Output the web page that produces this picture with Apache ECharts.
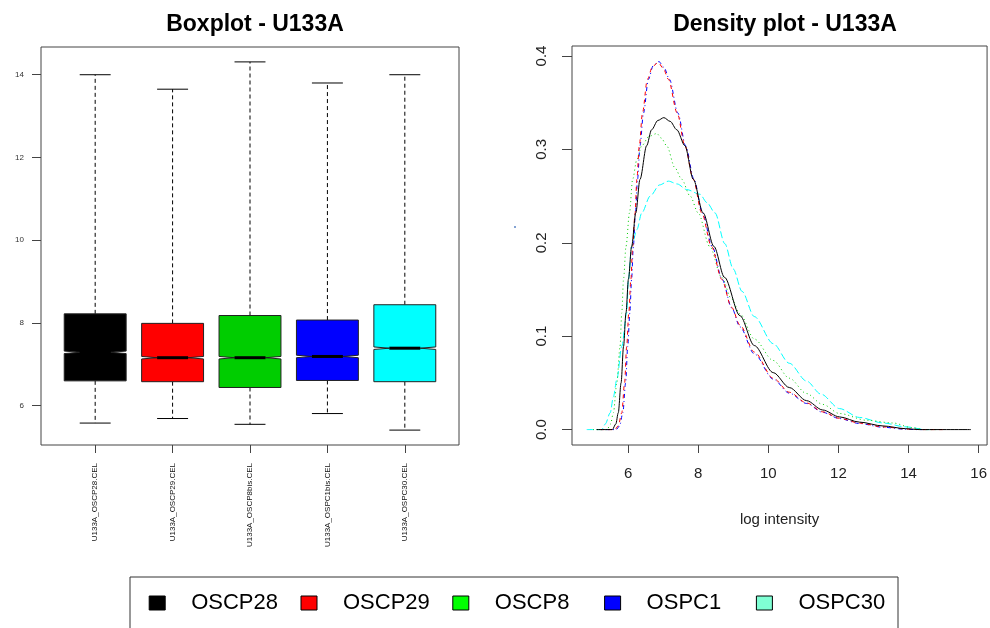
<!DOCTYPE html>
<html>
<head>
<meta charset="utf-8">
<title>U133A quality plots</title>
<script src="https://cdn.jsdelivr.net/npm/echarts@6/dist/echarts.min.js"></script>
<style>
  html, body { margin: 0; padding: 0; background: #fff; }
  #chart { width: 990px; height: 628px; }
</style>
</head>
<body>
<div id="chart"></div>
<script>
// ---- sample names ----
const sampleNames = ['OSCP28', 'OSCP29', 'OSCP8', 'OSPC1', 'OSPC30'];
const fileLabels = ['U133A_OSCP28.CEL', 'U133A_OSCP29.CEL', 'U133A_OSCP8bis.CEL', 'U133A_OSPC1bis.CEL', 'U133A_OSPC30.CEL'];

// ---- boxplot statistics (log2 intensity) ----
const whiskerLow = [5.58, 5.69, 5.55, 5.81, 5.41];
const quartile1  = [6.60, 6.58, 6.44, 6.61, 6.58];
const medians    = [7.29, 7.16, 7.16, 7.19, 7.39];
const quartile3  = [8.22, 7.99, 8.18, 8.07, 8.44];
const whiskerHigh = [14.00, 13.65, 14.31, 13.80, 14.00];

// ---- density estimates: [log intensity, density] ----
const densityOSCP28 = [
  [5.10,0],[5.55,0],[5.65,0.006],[5.72,0.018],[5.80,0.05],[5.87,0.089],[5.94,0.125],[6.01,0.161],
  [6.10,0.196],[6.22,0.232],[6.34,0.268],[6.53,0.304],[6.67,0.321],[6.85,0.331],[7.02,0.334],
  [7.20,0.330],[7.39,0.321],[7.62,0.304],[7.86,0.268],[8.14,0.232],[8.45,0.196],[8.75,0.163],
  [9.19,0.122],[9.60,0.090],[10.14,0.061],[10.60,0.045],[11.09,0.031],[11.55,0.021],[12.03,0.0136],
  [12.60,0.008],[13.27,0.0039],[13.91,0.001],[14.30,0],[15.78,0]
];
const densityOSCP29 = [
  [5.20,0],[5.62,0],[5.72,0.004],[5.82,0.018],[5.90,0.05],[5.96,0.089],[6.02,0.125],[6.08,0.161],
  [6.13,0.196],[6.20,0.232],[6.25,0.268],[6.32,0.304],[6.41,0.339],[6.55,0.375],[6.70,0.389],
  [6.86,0.393],[7.00,0.387],[7.15,0.375],[7.40,0.339],[7.62,0.304],[7.86,0.268],[8.10,0.232],
  [8.38,0.196],[8.67,0.161],[8.95,0.131],[9.19,0.112],[9.60,0.083],[10.14,0.055],[10.60,0.040],
  [11.09,0.0286],[11.55,0.019],[12.03,0.0121],[12.60,0.007],[13.27,0.0029],[14.00,0.0005],
  [14.40,0],[15.07,0]
];
const densityOSCP8 = [
  [5.00,0],[5.40,0],[5.50,0.006],[5.58,0.018],[5.68,0.05],[5.77,0.089],[5.82,0.125],[5.87,0.161],
  [5.94,0.196],[6.04,0.232],[6.13,0.268],[6.25,0.289],[6.39,0.304],[6.60,0.314],[6.82,0.317],
  [6.95,0.312],[7.10,0.304],[7.34,0.280],[7.53,0.268],[7.77,0.250],[8.00,0.232],[8.33,0.196],
  [8.67,0.163],[8.95,0.140],[9.19,0.124],[9.60,0.097],[10.14,0.074],[10.60,0.055],[11.09,0.0386],
  [11.55,0.027],[12.03,0.0172],[12.80,0.010],[13.55,0.0071],[14.10,0.002],[14.45,0],[14.85,0]
];
const densityOSPC1 = [
  [5.25,0],[5.66,0],[5.76,0.004],[5.85,0.018],[5.93,0.05],[5.99,0.089],[6.05,0.125],[6.10,0.161],
  [6.15,0.196],[6.21,0.232],[6.27,0.268],[6.34,0.304],[6.44,0.339],[6.58,0.375],[6.72,0.390],
  [6.88,0.394],[7.02,0.388],[7.18,0.375],[7.42,0.339],[7.64,0.304],[7.88,0.268],[8.12,0.232],
  [8.40,0.196],[8.68,0.161],[8.96,0.130],[9.19,0.110],[9.60,0.081],[10.14,0.054],[10.60,0.039],
  [11.09,0.028],[11.55,0.0185],[12.03,0.0118],[12.60,0.0065],[13.27,0.0025],[13.90,0.0004],
  [14.20,0],[14.40,0]
];
const densityOSPC30 = [
  [4.82,0],[5.25,0],[5.35,0.006],[5.49,0.018],[5.58,0.035],[5.68,0.054],[5.82,0.089],[5.96,0.125],
  [6.01,0.161],[6.10,0.196],[6.25,0.214],[6.39,0.232],[6.63,0.250],[6.90,0.262],[7.15,0.266],
  [7.40,0.263],[7.67,0.257],[8.05,0.252],[8.25,0.243],[8.48,0.232],[8.76,0.199],[9.00,0.172],
  [9.25,0.148],[9.60,0.121],[10.14,0.092],[10.60,0.071],[11.09,0.052],[11.50,0.038],[12.03,0.0225],
  [12.60,0.013],[13.27,0.0071],[13.90,0.003],[14.50,0],[14.60,0]
];
const densities = [densityOSCP28, densityOSCP29, densityOSCP8, densityOSPC1, densityOSPC30];

// ---- axis ticks ----
const boxTicks = [6, 8, 10, 12, 14];
const densityXTicks = [6, 8, 10, 12, 14, 16];
const densityYTicks = [0, 0.1, 0.2, 0.3, 0.4];

// ---- colours and line types ----
const boxColors = ['#000000', '#FF0000', '#00CD00', '#0000FF', '#00FFFF'];
const lineColors = ['#000000', '#FF0000', '#00CD00', '#0000FF', '#00FFFF'];
const legendColors = ['#000000', '#FF0000', '#00FF00', '#0000FF', '#7FFFD4'];
const lineDashes = ['solid', [4, 4], [1, 3], [1, 3, 4, 3], [7, 3]];

const FONT = '"Liberation Sans", Arial, Helvetica, sans-serif';
const BOX_WEX = 0.8;      // box width in x units
const NOTCH_HALF = 0.03;  // notch half-height in data units

const chart = echarts.init(document.getElementById('chart'), null, { renderer: 'canvas' });

const boxRows = sampleNames.map((_, i) =>
  [i + 1, whiskerLow[i], quartile1[i], medians[i], quartile3[i], whiskerHigh[i]]);

function renderBox(params, api) {
  const i = params.dataIndex;
  const x = api.value(0);
  const cx = api.coord([x, api.value(3)])[0];
  const yLo = api.coord([x, api.value(1)])[1];
  const yQ1 = api.coord([x, api.value(2)])[1];
  const yMed = api.coord([x, api.value(3)])[1];
  const yQ3 = api.coord([x, api.value(4)])[1];
  const yHi = api.coord([x, api.value(5)])[1];
  const half = api.size([BOX_WEX, 0])[0] / 2;
  const nh = api.size([0, NOTCH_HALF])[1];
  const dash = { stroke: '#000', lineWidth: 1, lineDash: [4, 3] };
  const solid = { stroke: '#000', lineWidth: 1 };
  return {
    type: 'group',
    children: [
      { type: 'line', shape: { x1: cx, y1: yQ3, x2: cx, y2: yHi }, style: dash },
      { type: 'line', shape: { x1: cx, y1: yQ1, x2: cx, y2: yLo }, style: dash },
      { type: 'line', shape: { x1: cx - half / 2, y1: yHi, x2: cx + half / 2, y2: yHi }, style: solid },
      { type: 'line', shape: { x1: cx - half / 2, y1: yLo, x2: cx + half / 2, y2: yLo }, style: solid },
      {
        type: 'polygon',
        shape: { points: [
          [cx - half, yQ3], [cx + half, yQ3], [cx + half, yMed - nh], [cx + half / 2, yMed],
          [cx + half, yMed + nh], [cx + half, yQ1], [cx - half, yQ1], [cx - half, yMed + nh],
          [cx - half / 2, yMed], [cx - half, yMed - nh]
        ] },
        style: { fill: boxColors[i], stroke: '#222', lineWidth: 1 }
      },
      { type: 'line', shape: { x1: cx - half / 2, y1: yMed, x2: cx + half / 2, y2: yMed },
        style: { stroke: '#000', lineWidth: 3 } }
    ]
  };
}

const option = {
  animation: false,
  backgroundColor: '#fff',
  textStyle: { fontFamily: FONT },
  title: [
    { text: 'Boxplot - U133A', left: 250, top: 8, textAlign: 'center',
      textStyle: { fontFamily: FONT, fontSize: 23, fontWeight: 'bold', color: '#000' } },
    { text: 'Density plot - U133A', left: 780, top: 8, textAlign: 'center',
      textStyle: { fontFamily: FONT, fontSize: 23, fontWeight: 'bold', color: '#000' } }
  ],
  grid: [
    { left: 41, top: 47, width: 418, height: 398, show: true, borderColor: '#444', borderWidth: 1, backgroundColor: 'transparent' },
    { left: 572, top: 46, width: 416, height: 399, show: true, borderColor: '#444', borderWidth: 1, backgroundColor: 'transparent' }
  ],
  xAxis: [
    {
      gridIndex: 0, type: 'value', min: 0.3, max: 5.7,
      axisLine: { show: false, onZero: false }, splitLine: { show: false },
      axisTick: { show: true, customValues: [1, 2, 3, 4, 5], length: 8, lineStyle: { color: '#444' } },
      axisLabel: { customValues: [1, 2, 3, 4, 5], rotate: 90, margin: 18, fontSize: 8, color: '#111',
        fontFamily: FONT, formatter: v => fileLabels[Math.round(v) - 1] }
    },
    {
      gridIndex: 1, type: 'value', min: 4.40, max: 16.24,
      name: 'log intensity', nameLocation: 'middle', nameGap: 67,
      nameTextStyle: { fontFamily: FONT, fontSize: 15, color: '#222' },
      axisLine: { show: false, onZero: false }, splitLine: { show: false },
      axisTick: { show: true, customValues: densityXTicks, length: 8, lineStyle: { color: '#444' } },
      axisLabel: { customValues: densityXTicks, margin: 21, fontSize: 15, color: '#222', fontFamily: FONT }
    }
  ],
  yAxis: [
    {
      gridIndex: 0, type: 'value', min: 5.05, max: 14.67,
      axisLine: { show: false, onZero: false }, splitLine: { show: false },
      axisTick: { show: true, customValues: boxTicks, length: 9, lineStyle: { color: '#444' } },
      axisLabel: { customValues: boxTicks, margin: 17, fontSize: 8, color: '#333', fontFamily: FONT }
    },
    {
      gridIndex: 1, type: 'value', min: -0.0165, max: 0.4107,
      axisLine: { show: false, onZero: false }, splitLine: { show: false },
      axisTick: { show: true, customValues: densityYTicks, length: 10, lineStyle: { color: '#444' } },
      axisLabel: { customValues: densityYTicks, rotate: 90, margin: 23, fontSize: 15, color: '#222',
        fontFamily: FONT, formatter: v => v.toFixed(1) }
    }
  ],
  legend: sampleNames.map((name, i) => ({
    left: 148.7 + i * 151.8, top: 592, padding: 0, orient: 'horizontal',
    icon: 'rect', itemWidth: 16, itemHeight: 14, selectedMode: false,
    textStyle: { fontFamily: FONT, fontSize: 22, color: '#000', padding: [0, 0, 0, 21] },
    data: [{ name, itemStyle: { color: legendColors[i], borderColor: '#000', borderWidth: 1 } }]
  })),
  graphic: [
    { type: 'rect', shape: { x: 130, y: 577, width: 768, height: 80 },
      style: { fill: 'none', stroke: '#333', lineWidth: 1 }, silent: true },
    { type: 'circle', shape: { cx: 515, cy: 227, r: 1 }, style: { fill: '#5b84c4' }, silent: true }
  ],
  series: [
    {
      type: 'custom', name: 'boxes', xAxisIndex: 0, yAxisIndex: 0,
      renderItem: renderBox, data: boxRows, encode: { x: 0, y: [1, 2, 3, 4, 5] }, silent: true
    },
    ...sampleNames.map((name, i) => ({
      type: 'line', name, xAxisIndex: 1, yAxisIndex: 1, data: densities[i],
      showSymbol: false, symbol: 'none', smooth: 0.3, smoothMonotone: 'x',
      lineStyle: { color: lineColors[i], width: 1, type: lineDashes[i] },
      itemStyle: { color: lineColors[i] }, silent: true, z: 10 - i
    }))
  ]
};

chart.setOption(option);
</script>
</body>
</html>
